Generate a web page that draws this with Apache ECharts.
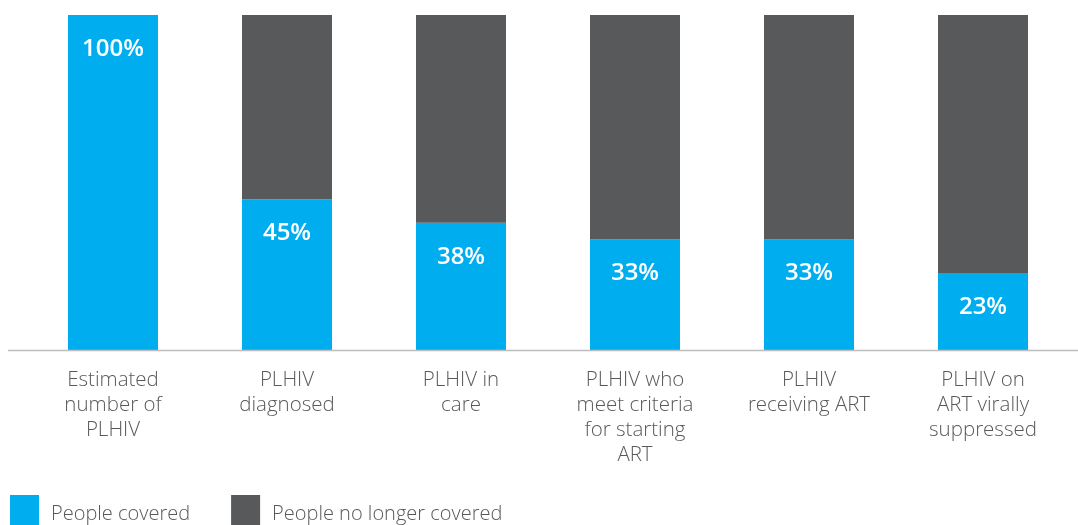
<!DOCTYPE html>
<html>
<head>
<meta charset="utf-8">
<script src="https://cdn.jsdelivr.net/npm/echarts@6/dist/echarts.min.js"></script>
<style>html,body{margin:0;padding:0;background:#fff}#c{width:1078px;height:525px}</style>
</head>
<body>
<div id="c"></div>
<script>
var categories = ['Estimated\nnumber of\nPLHIV', 'PLHIV\ndiagnosed', 'PLHIV in\ncare', 'PLHIV who\nmeet criteria\nfor starting\nART', 'PLHIV\nreceiving ART', 'PLHIV on\nART virally\nsuppressed'];
var covered = [100, 45, 38, 33, 33, 23];
var notCovered = [0, 55, 62, 67, 67, 77];
var seriesNames = ['People covered', 'People no longer covered'];

var FONT = 'Open Sans';
var chart = echarts.init(document.getElementById('c'));
chart.setOption({
  animation: false,
  textStyle: { fontFamily: FONT },
  grid: { left: 26, right: 8, top: 15, bottom: 175 },
  legend: {
    left: 10, top: 495, padding: 0,
    itemWidth: 29, itemHeight: 38, itemGap: 41,
    icon: 'rect',
    textStyle: { fontSize: 20, color: '#595959', fontFamily: FONT, fontWeight: 300, padding: [0, 0, 0, 7] },
    data: seriesNames
  },
  xAxis: {
    type: 'category',
    data: categories,
    axisLine: { show: false },
    axisTick: { show: false },
    axisLabel: { margin: 18, fontSize: 20.5, lineHeight: 25, color: '#595959', fontFamily: FONT, fontWeight: 300, interval: 0 }
  },
  yAxis: { type: 'value', min: 0, max: 100, show: false },
  graphic: [{
    type: 'line',
    shape: { x1: 8, y1: 350.5, x2: 1078, y2: 350.5 },
    style: { stroke: '#bdbdbd', lineWidth: 1.5 },
    z: 10
  }],
  series: [{
    name: seriesNames[0], type: 'bar', stack: 'a', barWidth: 90,
    itemStyle: { color: '#00AEEF' },
    label: { show: true, position: 'insideTop', distance: 22, color: '#fff', fontSize: 24, fontWeight: 600, fontFamily: FONT, formatter: '{c}%' },
    data: covered
  }, {
    name: seriesNames[1], type: 'bar', stack: 'a', barWidth: 90,
    itemStyle: { color: '#58595B' },
    data: notCovered
  }]
});
</script>
</body>
</html>
